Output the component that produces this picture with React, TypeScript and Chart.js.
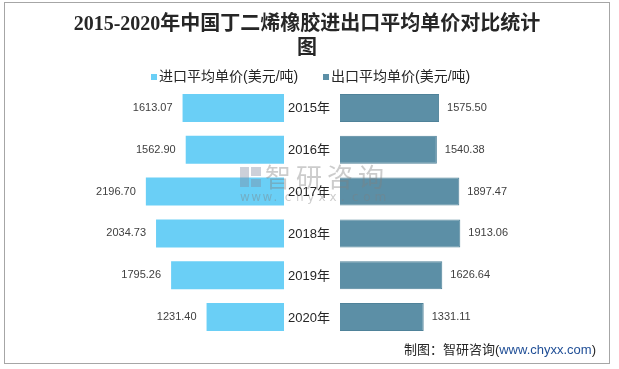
import React, { useEffect, useRef } from "react";
import { Chart, registerables } from "chart.js";

Chart.register(...registerables);

const years = ["2015年", "2016年", "2017年", "2018年", "2019年", "2020年"];
const importPrice = [1613.07, 1562.9, 2196.7, 2034.73, 1795.26, 1231.4];
const exportPrice = [1575.5, 1540.38, 1897.47, 1913.06, 1626.64, 1331.11];
const seriesNames = ["进口平均单价(美元/吨)", "出口平均单价(美元/吨)"];
const titleLines = ["2015-2020年中国丁二烯橡胶进出口平均单价对比统计", "图"];
const sourcePre = "制图：智研咨询(";
const sourceUrl = "www.chyxx.com";
const sourcePost = ")";

const GAP = 445; // half gap in value units for the centre labels
const AXIS_MAX = 4770;
const COLORS = ["#6ACFF6", "#5C8FA6"];
const CJK = "'Noto Sans CJK SC'";

const overlay = {
  id: "overlay",
  afterDatasetsDraw(chart: any) {
    const ctx = chart.ctx as CanvasRenderingContext2D;
    const xs = chart.scales.x;
    const ys = chart.scales.y;
    ctx.save();
    // watermark
    ctx.globalAlpha = 0.4;
    ctx.fillStyle = "#7f8aa0";
    ctx.fillRect(240, 167, 9, 20);
    ctx.fillRect(251, 167, 10, 9);
    ctx.fillRect(251, 179, 10, 8);
    ctx.fillStyle = "#808080";
    ctx.font = `26px ${CJK}`;
    ctx.textBaseline = "middle";
    ctx.textAlign = "left";
    const wm = "智研咨询";
    for (let i = 0; i < wm.length; i++) ctx.fillText(wm[i], 265 + i * 31, 177);
    ctx.font = "12px 'DejaVu Sans'";
    const url = "www.chyxx.com";
    for (let i = 0; i < url.length; i++) ctx.fillText(url[i], 240 + i * 11.2, 198);
    ctx.globalAlpha = 1;

    // year labels and values
    const cx = (xs.getPixelForValue(-GAP) + xs.getPixelForValue(GAP)) / 2 - 3;
    years.forEach((yr, i) => {
      const y = ys.getPixelForValue(i);
      ctx.fillStyle = "#262626";
      ctx.font = `13px 'Liberation Sans', ${CJK}`;
      ctx.textAlign = "center";
      ctx.fillText(yr, cx, y + 1);
      ctx.fillStyle = "#404040";
      ctx.font = "11px 'Liberation Sans'";
      ctx.textAlign = "right";
      ctx.fillText(importPrice[i].toFixed(2), xs.getPixelForValue(-GAP - importPrice[i]) - 10, y);
      ctx.textAlign = "left";
      ctx.fillText(exportPrice[i].toFixed(2), xs.getPixelForValue(GAP + exportPrice[i]) + 8, y);
    });
    ctx.restore();
  },
  afterDraw(chart: any) {
    const ctx = chart.ctx as CanvasRenderingContext2D;
    ctx.save();
    // border
    ctx.strokeStyle = "#a6a6a6";
    ctx.lineWidth = 1;
    ctx.strokeRect(4.5, 2.5, 605, 361);
    // title
    ctx.fillStyle = "#262626";
    ctx.font = `bold 20px 'Liberation Serif', ${CJK}`;
    ctx.textAlign = "center";
    ctx.textBaseline = "middle";
    ctx.fillText(titleLines[0], 307, 25);
    ctx.fillText(titleLines[1], 307, 49);
    // legend
    ctx.font = `14px 'Liberation Sans', ${CJK}`;
    ctx.textAlign = "left";
    const lx = [151, 323];
    seriesNames.forEach((n, i) => {
      ctx.fillStyle = COLORS[i];
      ctx.fillRect(lx[i], 74, 6, 6);
      ctx.fillStyle = "#262626";
      ctx.fillText(n, lx[i] + 8, 77);
    });
    // source
    ctx.font = `13px 'Liberation Sans', ${CJK}`;
    const endX = 596;
    const wPost = ctx.measureText(sourcePost).width;
    const wUrl = ctx.measureText(sourceUrl).width;
    const wPre = ctx.measureText(sourcePre).width;
    let x = endX - wPost - wUrl - wPre;
    ctx.fillStyle = "#262626";
    ctx.fillText(sourcePre, x, 350);
    x += wPre;
    ctx.fillStyle = "#1f4e96";
    ctx.fillText(sourceUrl, x, 350);
    x += wUrl;
    ctx.fillStyle = "#262626";
    ctx.fillText(sourcePost, x, 350);
    ctx.restore();
  },
};

export default function App() {
  const ref = useRef<HTMLCanvasElement>(null);
  useEffect(() => {
    if (!ref.current) return;
    const chart = new Chart(ref.current, {
      type: "bar",
      data: {
        labels: years,
        datasets: [
          {
            label: seriesNames[0],
            data: importPrice.map((v) => [-GAP - v, -GAP]),
            backgroundColor: COLORS[0],
            borderWidth: 0,
          },
          {
            label: seriesNames[1],
            data: exportPrice.map((v) => [GAP, GAP + v]),
            backgroundColor: COLORS[1],
            borderColor: "#4f8299",
            borderWidth: 1,
          },
        ],
      } as any,
      options: {
        indexAxis: "y",
        animation: false,
        responsive: false,
        maintainAspectRatio: false,
        grouped: false,
        barPercentage: 0.67,
        categoryPercentage: 1,
        layout: { padding: { left: 12, right: 7, top: 87, bottom: 31 } },
        scales: {
          x: { display: false, min: -AXIS_MAX, max: AXIS_MAX },
          y: { display: false },
        },
        plugins: {
          legend: { display: false },
          title: { display: false },
          tooltip: { enabled: false },
        },
      } as any,
      plugins: [overlay],
    });
    return () => chart.destroy();
  }, []);
  return (
    <div style={{ position: "absolute", left: 0, top: 0, width: 619, height: 369, background: "#fff" }}>
      <canvas ref={ref} width={619} height={369} />
    </div>
  );
}
